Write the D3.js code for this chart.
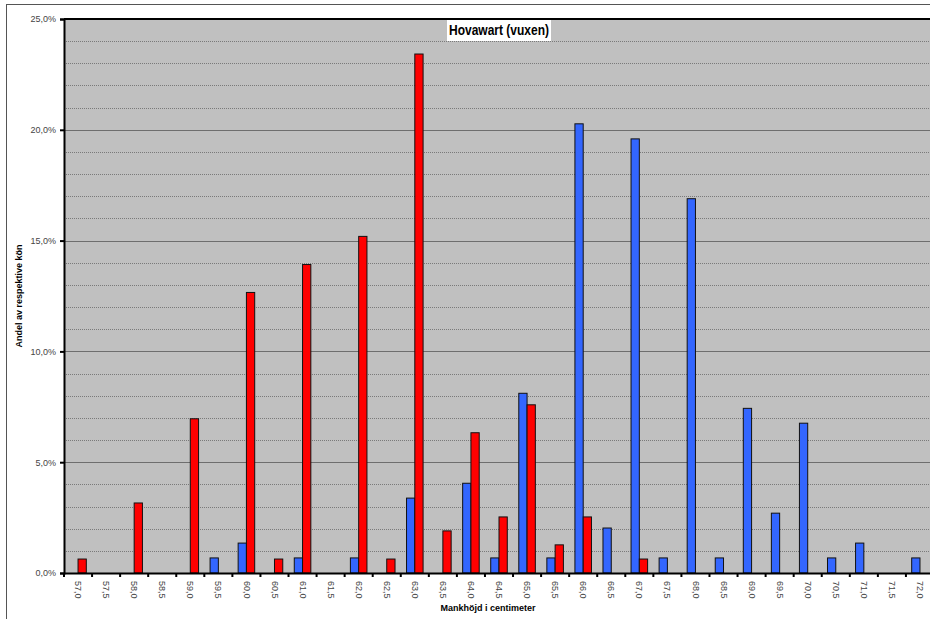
<!DOCTYPE html>
<html>
<head>
<meta charset="utf-8">
<script src="https://cdn.jsdelivr.net/npm/d3@7"></script>
<style>
    body { margin: 0; background: #fff; }
    text { font-family: "Liberation Sans", Arial, sans-serif; }
    .tick-label { font-size: 9px; fill: #444; }
    .axis-title { font-size: 9px; font-weight: bold; fill: #000; }
</style>
</head>
<body>
<div id="chart"></div>
<script>

// mankhöjd categories (cm)
let heights = ["57,0","57,5","58,0","58,5","59,0","59,5","60,0","60,5","61,0","61,5",
    "62,0","62,5","63,0","63,5","64,0","64,5","65,0","65,5","66,0","66,5",
    "67,0","67,5","68,0","68,5","69,0","69,5","70,0","70,5","71,0","71,5","72,0"];

// hanar (blue), percent
let males = [0, 0, 0, 0, 0, 0.68, 1.35, 0, 0.68, 0,
    0.68, 0, 3.38, 0, 4.05, 0.68, 8.11, 0.68, 20.27, 2.03,
    19.59, 0.68, 16.89, 0.68, 7.43, 2.70, 6.76, 0.68, 1.35, 0, 0.68];

// tikar (red), percent
let females = [0.63, 0, 3.16, 0, 6.96, 0, 12.66, 0.63, 13.92, 0,
    15.19, 0.63, 23.42, 1.90, 6.33, 2.53, 7.59, 1.27, 2.53, 0,
    0.63, 0, 0, 0, 0, 0, 0, 0, 0, 0, 0];

let yTicks = [0, 5, 10, 15, 20, 25];
let gridValues = d3.range(1, 26);

let seriesKeys = ["males", "females"];
let seriesColors = {males: "#3366ff", females: "#ff0000"};

let data = heights.map((h, i) => ({h: h, males: males[i], females: females[i]}));

let margin = {top: 19, left: 64};
let plotW = 870, plotH = 554;

let svg = d3.select("#chart").append("svg")
    .attr("width", 930)
    .attr("height", 619);

// outer chart frame
svg.append("rect")
    .attr("x", 6.5).attr("y", 4.5)
    .attr("width", 940).attr("height", 640)
    .attr("fill", "#fff")
    .attr("stroke", "#555")
    .attr("stroke-width", 1);

let g = svg.append("g")
    .attr("transform", `translate(${margin.left},${margin.top})`);

let x = d3.scaleBand()
    .domain(heights)
    .range([0, plotW]);

let xInner = d3.scaleBand()
    .domain(seriesKeys)
    .range([x.bandwidth() * 0.205, x.bandwidth() * 0.795]);

let y = d3.scaleLinear()
    .domain([0, 25])
    .range([plotH, 0]);

// plot background
g.append("rect")
    .attr("width", plotW).attr("height", plotH)
    .attr("fill", "#c0c0c0");

// gridlines (dotted, 5% lines a bit stronger)
g.append("g")
    .selectAll("line")
    .data(gridValues)
    .join("line")
    .attr("x1", 0).attr("x2", plotW)
    .attr("y1", d => Math.round(y(d)) + 0.5)
    .attr("y2", d => Math.round(y(d)) + 0.5)
    .attr("stroke", d => d % 5 === 0 ? "#6e6e6e" : "#7a7a7a")
    .attr("stroke-width", 1)
    .attr("stroke-dasharray", d => d % 5 === 0 ? null : "1,1");

// bars
let groups = g.append("g")
    .selectAll("g")
    .data(data)
    .join("g")
    .attr("transform", d => `translate(${x(d.h)},0)`);

groups.selectAll("rect")
    .data(d => seriesKeys.map(k => ({key: k, value: d[k]})))
    .join("rect")
    .filter(d => d.value > 0)
    .attr("x", d => xInner(d.key))
    .attr("y", d => y(d.value))
    .attr("width", xInner.bandwidth())
    .attr("height", d => plotH - y(d.value))
    .attr("fill", d => seriesColors[d.key])
    .attr("stroke", "#111")
    .attr("stroke-width", 1);

// plot border top
g.append("line")
    .attr("x1", 0).attr("x2", plotW)
    .attr("y1", 0).attr("y2", 0)
    .attr("stroke", "#000").attr("stroke-width", 2);

// y axis
let yAxis = d3.axisLeft(y)
    .tickValues(yTicks)
    .tickSize(4)
    .tickFormat(d => d3.format(".1f")(d).replace(".", ",") + "%");

let yAxisG = g.append("g").call(yAxis);
yAxisG.select(".domain").attr("stroke", "#000").attr("stroke-width", 2);
yAxisG.selectAll(".tick line").attr("stroke", "#000").attr("stroke-width", 2);
yAxisG.selectAll(".tick text")
    .attr("class", "tick-label")
    .attr("x", -8)
    .attr("font-size", null)
    .attr("font-family", null);

// x axis
let xAxis = d3.axisBottom(x)
    .tickSize(0)
    .tickSizeOuter(0);

let xAxisG = g.append("g")
    .attr("transform", `translate(0,${plotH})`)
    .call(xAxis);
xAxisG.select(".domain").attr("stroke", "#000").attr("stroke-width", 2);
xAxisG.selectAll(".tick text")
    .attr("class", "tick-label")
    .attr("font-size", null)
    .attr("font-family", null)
    .attr("transform", "rotate(90)")
    .attr("x", 8)
    .attr("y", 0)
    .attr("dy", "0.32em")
    .attr("text-anchor", "start");

// tick marks on category boundaries
xAxisG.append("g")
    .selectAll("line")
    .data(heights)
    .join("line")
    .attr("x1", d => x(d)).attr("x2", d => x(d))
    .attr("y1", 0).attr("y2", 4)
    .attr("stroke", "#000").attr("stroke-width", 2);

// title in a white box
let title = g.append("g")
    .attr("transform", `translate(${435},${11})`);
let titleText = title.append("text")
    .attr("text-anchor", "middle")
    .attr("dy", "0.35em")
    .attr("font-size", "14px")
    .attr("font-weight", "bold")
    .attr("textLength", 100)
    .attr("lengthAdjust", "spacingAndGlyphs")
    .text("Hovawart (vuxen)");
let bb = titleText.node().getBBox();
title.insert("rect", "text")
    .attr("x", -52).attr("y", -10)
    .attr("width", 104).attr("height", 21)
    .attr("fill", "#fff");

// axis titles
svg.append("text")
    .attr("class", "axis-title")
    .attr("transform", "translate(22,296) rotate(-90)")
    .attr("text-anchor", "middle")
    .text("Andel av respektive kön");

svg.append("text")
    .attr("class", "axis-title")
    .attr("x", 488).attr("y", 611)
    .attr("text-anchor", "middle")
    .text("Mankhöjd i centimeter");

</script>
</body>
</html>
